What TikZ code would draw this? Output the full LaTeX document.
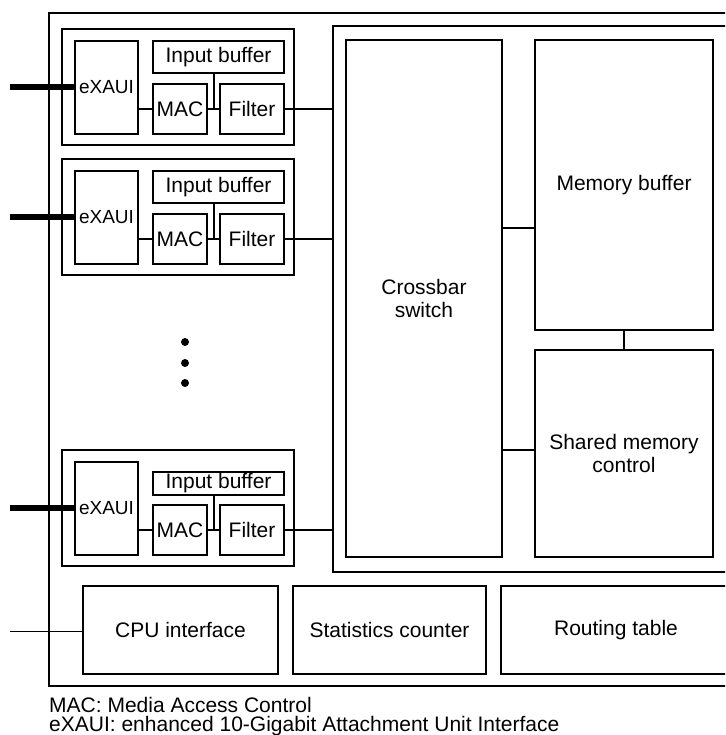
\documentclass[tikz,border=0pt]{standalone}
\usepackage{fontspec}
\setmainfont{Liberation Sans}
\usetikzlibrary{calc}

% One port unit: #1 name prefix, #2 top edge, #3 input-buffer centre offset, #4 input-buffer height
\newcommand\portunit[4]{%
  \node[blk, minimum width=232pt, minimum height=116pt] (#1box) at (178,{#2+58}) {};
  \node[blk, minimum width=63pt, minimum height=93pt, font=\fontsize{19}{21}\selectfont] (#1x) at (106.5,{#2+58.5}) {eXAUI};
  \node[blk, minimum width=131pt, minimum height=#4pt] (#1ib) at (218.5,{#2+#3}) {Input buffer};
  \node[blk, minimum width=54pt, minimum height=50pt] (#1mac) at (180,{#2+80}) {MAC};
  \node[blk, minimum width=64pt, minimum height=50pt] (#1f) at (252,{#2+80}) {Filter};
  \coordinate (#1in) at (10,{#2+58});
  \coordinate (#1mid) at ($(#1mac.east)!0.5!(#1f.west)$);
  \draw[feed] (#1in) -- (#1in -| #1x.west);
  \draw[link] (#1x.east |- #1mac.west) -- (#1mac.west);
  \draw[link] (#1mac.east) -- (#1f.west);
  \draw[link] (#1mid) -- (#1mid |- #1ib.south);
  \draw[link] (#1f.east) -- (#1f.east -| cont.west);
}

\begin{document}
\begin{tikzpicture}[x=1pt,y=-1pt,
  blk/.style={draw, line width=1.2pt, inner sep=0pt, align=center,
              font=\fontsize{21}{23}\selectfont},
  link/.style={line width=2pt},
  feed/.style={line width=5.5pt},
  wire/.style={line width=1pt},
  legend/.style={anchor=base west, inner sep=0pt, font=\fontsize{21}{23}\selectfont}]
\useasboundingbox (0,0) rectangle (725,735);
\begin{scope}
\clip (0,0) rectangle (725,735);

% outer chip and switch-core frames (run past the right edge)
\node[blk, minimum width=731pt, minimum height=673pt] (chip) at (414.5,349.5) {};
\node[blk, minimum width=447pt, minimum height=546pt] (cont) at (556.5,299) {};

% switch core
\node[blk, minimum width=156pt, minimum height=517pt] (cb) at (424,298.5) {Crossbar\\switch};
\node[blk, minimum width=178pt, minimum height=290pt] (mb) at (624,185) {Memory buffer};
\node[blk, minimum width=178pt, minimum height=207pt] (sm) at (624,453.5) {Shared memory\\control};
\coordinate (k1) at (520,228);
\coordinate (k2) at (520,450);
\draw[link] (cb.east |- k1) -- (mb.west |- k1);
\draw[link] (cb.east |- k2) -- (sm.west |- k2);
\draw[link] (mb.south) -- (sm.north);

% port units
\portunit{pa}{29}{28}{32}
\portunit{pb}{159}{28}{32}
\portunit{pc}{450}{33.5}{23}

% ellipsis between ports
\fill (185,342) circle[radius=4pt];
\fill (185,363) circle[radius=4pt];
\fill (185,383) circle[radius=4pt];

% bottom row
\node[blk, minimum width=195pt, minimum height=88pt] (cpu) at (180.5,630) {CPU interface};
\node[blk, minimum width=193pt, minimum height=88pt] (stat) at (389.5,630) {Statistics counter};
\node[blk, minimum width=250pt, minimum height=88pt] (rt) at (626,630) {\hspace*{-20pt}Routing table};
\coordinate (cpuin) at (10,631);
\draw[wire] (cpuin) -- (cpuin -| cpu.west);

% legend
\node[legend] (leg1) at (49,712) {MAC: Media Access Control};
\node[legend] (leg2) at (49,731) {eXAUI: enhanced 10-Gigabit Attachment Unit Interface};
\end{scope}
\end{tikzpicture}
\end{document}
